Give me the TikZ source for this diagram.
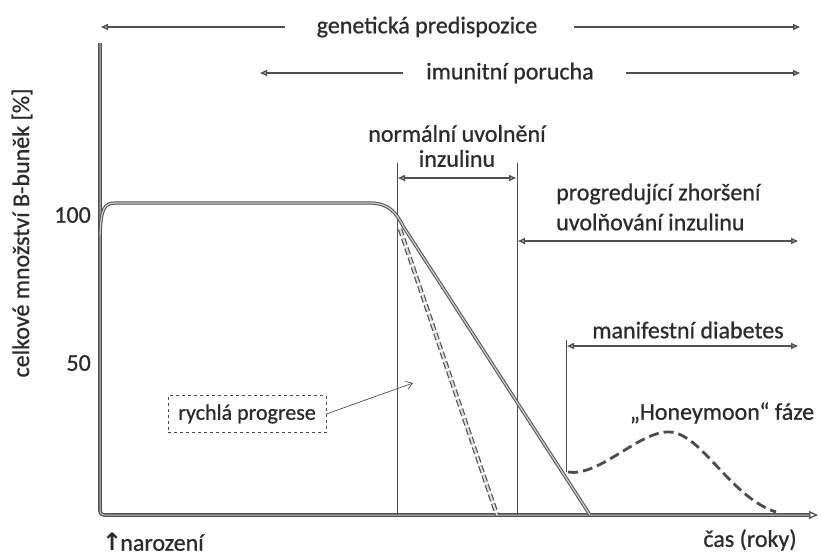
\documentclass[tikz,border=0pt]{standalone}
\usepackage{fontspec}
\setmainfont{Carlito}[FakeBold=0.7]
\newfontfamily\symfont{DejaVu Sans}
\usetikzlibrary{arrows.meta}
\definecolor{ink}{HTML}{2B2B2B}
\definecolor{ln}{HTML}{505050}
\definecolor{thin}{HTML}{4A4A4A}
\tikzset{
  lbl/.style={text=ink, inner sep=0pt, font=\fontsize{24}{25}\selectfont},
  axisline/.style={draw=ln, line width=1.3pt, double=gray!45, double distance=1pt, rounded corners=4pt},
  mainline/.style={draw=ln, line width=1pt, double=gray!40, double distance=1.3pt},
  fastline/.style={draw=ln, line width=1.2pt, double=gray!25, double distance=2pt, dash pattern=on 7pt off 3pt},
  honey/.style={draw=gray!60!black, line width=2.8pt, dash pattern=on 10pt off 5pt},
  vline/.style={draw=thin, line width=0.7pt},
  harrow/.style={draw=ln, line width=1.5pt, {Triangle[open,length=7pt,width=6pt]}-{Triangle[open,length=7pt,width=6pt]}},
  sarrow/.style={draw=ln, line width=1.5pt, -{Triangle[open,length=7pt,width=6pt]}},
  thinarrow/.style={draw=thin, line width=0.7pt, -{Straight Barb[length=6pt,width=8pt]}},
  pbox/.style={draw=thin, dashed, line width=0.7pt, minimum width=158pt, minimum height=37pt, inner sep=0pt, text=ink, font=\fontsize{22}{24}\selectfont}
}
\begin{document}
\begin{tikzpicture}[x=1pt,y=-1pt]
\useasboundingbox (0,0) rectangle (821,558);
\fill[white] (0,0) rectangle (821,558);
% axes
\coordinate (ytop) at (100,43);
\coordinate (origin) at (100,515);
\coordinate (xend) at (818,515);
\draw[axisline, -{Triangle[open,length=9pt,width=8pt]}] (ytop) -- (origin) -- (xend);
% labels on axes
\node[lbl, rotate=90] (ylab) at (22,233) {celkové množství B-buněk [\%]};
\node[lbl, anchor=east] (l100) at (91,215) {100};
\node[lbl, anchor=east] (l50) at (91,363) {50};
\node[lbl] (birth) at (153,542) {{\symfont\bfseries\fontsize{24}{24}\selectfont ↑}\kern-2pt narození};
\node[lbl] (time) at (750,540) {čas (roky)};
% vertical markers
\coordinate (v1t) at (397,163); \coordinate (v1b) at (397,515);
\coordinate (v2t) at (517,163); \coordinate (v2b) at (517,515);
\coordinate (v3t) at (566,340); \coordinate (v3b) at (566,472);
\draw[vline] (v1t) -- (v1b);
\draw[vline] (v2t) -- (v2b);
\draw[vline] (v3t) -- (v3b);
% top arrows
\node[lbl] (gen) at (427,27) {genetická predispozice};
\coordinate (genL1) at (285,27); \coordinate (genL2) at (101,27);
\coordinate (genR1) at (574,27); \coordinate (genR2) at (800,27);
\draw[sarrow] (genL1) -- (genL2);
\draw[sarrow] (genR1) -- (genR2);
\node[lbl] (imu) at (510,73) {imunitní porucha};
\coordinate (imuL1) at (403,73); \coordinate (imuL2) at (260,73);
\coordinate (imuR1) at (626,73); \coordinate (imuR2) at (800,73);
\draw[sarrow] (imuL1) -- (imuL2);
\draw[sarrow] (imuR1) -- (imuR2);
% normal release
\node[lbl, align=center] (norm) at (457,146) {normální uvolnění\\inzulinu};
\coordinate (n1) at (398,178); \coordinate (n2) at (516,178);
\draw[harrow] (n1) -- (n2);
% progressive
\node[lbl, align=left, anchor=west] (prog) at (556,207) {progredující zhoršení\\[5pt]uvolňování inzulinu};
\coordinate (p1) at (518,241); \coordinate (p2) at (798,241);
\draw[harrow] (p1) -- (p2);
% manifest
\node[lbl] (man) at (688,330) {manifestní diabetes};
\coordinate (m1) at (567,346); \coordinate (m2) at (798,346);
\draw[harrow] (m1) -- (m2);
% honeymoon
\node[lbl] (hon) at (722,413) {„Honeymoon“ fáze};
% main curve
\coordinate (c0) at (100,236);
\coordinate (c1) at (116,203);
\coordinate (c2) at (370,203);
\coordinate (c3) at (403,226);
\coordinate (c4) at (590,515);
\draw[mainline] (c0) .. controls (101,208) and (104,203) .. (c1) -- (c2) .. controls (388,203) and (396,212) .. (c3) -- (c4);
% fast progression
\coordinate (f0) at (400,229);
\coordinate (f1) at (497,515);
\draw[fastline] (f0) -- (f1);
% honeymoon curve
\coordinate (h0) at (568,472);
\coordinate (h1) at (670,432);
\coordinate (h2) at (776,512);
\draw[honey] (h0) .. controls (600,477) and (640,430) .. (h1) .. controls (702,434) and (730,497) .. (h2);
% rapid progression box
\node[pbox] (rp) at (247,414) {rychlá progrese};
\coordinate (rpt) at (413,383);
\draw[thinarrow] (rp.east) -- (rpt);
\end{tikzpicture}
\end{document}
